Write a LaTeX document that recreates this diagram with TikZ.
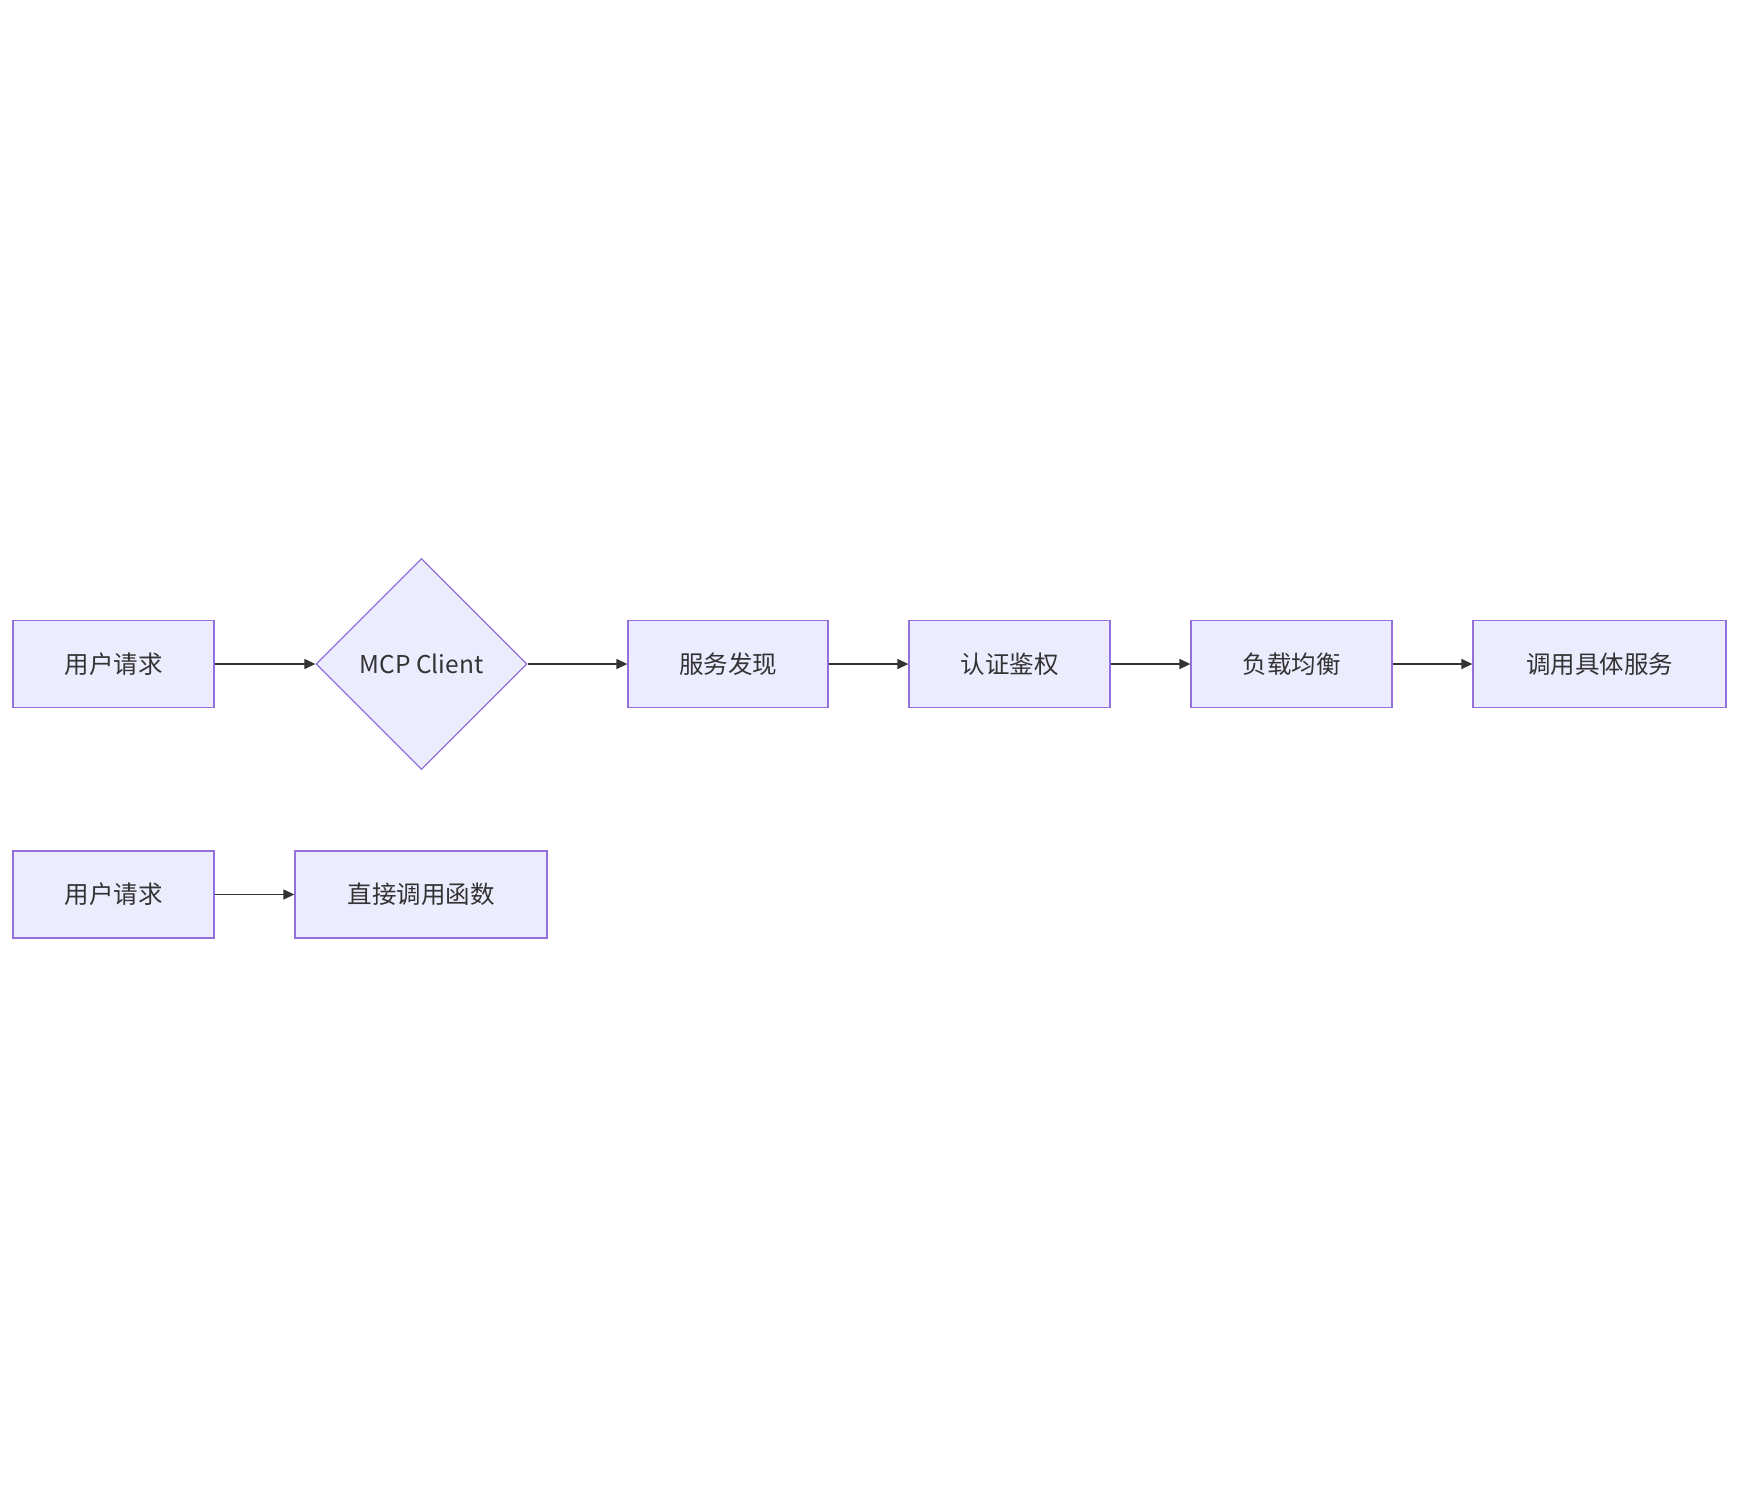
\documentclass[tikz,border=0pt]{standalone}
\usepackage{fontspec}
\setmainfont{Noto Sans CJK SC}
\usetikzlibrary{arrows.meta, positioning, shapes.geometric}
\definecolor{nodefill}{HTML}{ECECFF}
\definecolor{nodeline}{HTML}{9370DB}
\definecolor{arrowcol}{HTML}{333333}

\begin{document}
\begin{tikzpicture}[
    x=1pt, y=-1pt,
    >={Triangle[length=11pt, width=10pt]},
    box/.style={
        draw=nodeline, fill=nodefill, line width=1.3pt, minimum height=87pt,
        inner sep=0pt, font=\fontsize{24.5}{28}\selectfont, text=arrowcol
    },
    choice/.style={
        box, diamond, minimum width=211pt, minimum height=211pt
    },
    flow/.style={->, arrowcol, line width=1.3pt},
]
\useasboundingbox (0,0) rectangle (1739,1496);

% ── Top row ──
\node[box, minimum width=201pt] (req)    at (113.5,664)  {用户请求};
\node[choice]                   (client) at (421.5,664)  {MCP Client};
\node[box, minimum width=200pt] (disc)   at (728,664)    {服务发现};
\node[box, minimum width=201pt] (auth)   at (1009.5,664) {认证鉴权};
\node[box, minimum width=201pt] (lb)     at (1291.5,664) {负载均衡};
\node[box, minimum width=253pt] (svc)    at (1599.5,664) {调用具体服务};

% ── Bottom row ──
\node[box, minimum width=201pt] (req2)   at (113.5,894.5) {用户请求};
\node[box, minimum width=252pt] (direct) at (421,894.5)   {直接调用函数};

% ── Arrows ──
\draw[flow] (req) -- (client);
\draw[flow] (client) -- (disc);
\draw[flow] (disc) -- (auth);
\draw[flow] (auth) -- (lb);
\draw[flow] (lb) -- (svc);
\draw[flow] (req2) -- (direct);

\end{tikzpicture}
\end{document}
